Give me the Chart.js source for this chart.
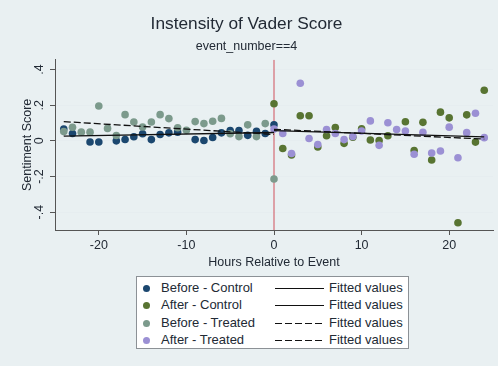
<!DOCTYPE html>
<html>
<head>
<meta charset="utf-8">
<script src="https://cdn.jsdelivr.net/npm/chart.js@4.4.1/dist/chart.umd.min.js"></script>
<style>
	html, body { margin: 0; padding: 0; background: #e9f0f2; }
	#wrap { position: relative; width: 498px; height: 366px; }
	#legend {
		position: absolute; left: 136px; top: 276px; width: 273px; height: 73px;
		background: #fff; border: 1px solid #8c9196; box-sizing: border-box;
		font-family: "Liberation Sans", Arial, sans-serif; font-size: 13px; color: #222a35;
		padding-top: 3px;
	}
	.row { position: relative; height: 17.3px; }
	.dot { position: absolute; left: 6px; top: 5px; width: 7px; height: 7px; border-radius: 50%; }
	.lab1 { position: absolute; left: 24px; top: 0px; }
	.smp { position: absolute; left: 138px; width: 49px; top: 8px; height: 1.2px; }
	.lab2 { position: absolute; left: 192px; top: 0px; }
</style>
</head>
<body>
<div id="wrap">
	<canvas id="chart" width="498" height="366"></canvas>
	<div id="legend"></div>
</div>
<script>
const titleText = "Instensity of Vader Score";
const subtitleText = "event_number==4";
const xTitle = "Hours Relative to Event";
const yTitle = "Sentiment Score";
const xTicks = [-20, -10, 0, 10, 20];
const yTicks = [-0.4, -0.2, 0, 0.2, 0.4];
const yTickLabels = ["-.4", "-.2", "0", ".2", ".4"];

const seriesNames = ["Before - Control", "After - Control", "Before - Treated", "After - Treated"];
const fitName = "Fitted values";

const hoursBC = [-24, -23, -21, -20, -18, -17, -16, -15, -14, -13, -12, -11, -9, -8, -7, -6, -5, -4, -3, -2, -1, 0];
const valuesBC = [0.067, 0.041, -0.006, -0.006, 0.0, 0.008, 0.023, 0.04, 0.007, 0.036, 0.045, 0.049, 0.007, 0.002, 0.019, 0.045, 0.058, 0.058, 0.031, 0.053, 0.041, 0.09];

const hoursAC = [0, 1, 2, 3, 4, 5, 6, 7, 8, 9, 10, 11, 12, 13, 15, 16, 17, 18, 19, 20, 21, 22, 23, 24];
const valuesAC = [0.208, -0.043, -0.079, 0.141, 0.141, -0.034, 0.029, 0.075, -0.014, 0.02, 0.068, 0.005, 0.002, 0.029, 0.107, -0.054, 0.104, -0.107, 0.161, 0.129, -0.459, 0.146, -0.007, 0.284];

const hoursBT = [-24, -23, -22, -21, -20, -19, -18, -17, -16, -15, -14, -13, -12, -11, -10, -9, -8, -7, -6, -5, -4, -3, -2, -1, 0];
const valuesBT = [0.052, 0.076, 0.049, 0.049, 0.196, 0.07, 0.03, 0.147, 0.106, 0.078, 0.106, 0.147, 0.125, 0.074, 0.059, 0.108, 0.097, 0.11, 0.126, 0.04, 0.024, 0.09, 0.024, 0.097, -0.214];

const hoursAT = [0, 1, 2, 3, 4, 5, 6, 7, 8, 9, 10, 11, 12, 13, 14, 15, 16, 17, 18, 19, 20, 21, 22, 23, 24];
const valuesAT = [0.066, 0.041, -0.071, 0.323, 0.013, -0.02, 0.064, 0.041, 0.007, 0.025, 0.055, 0.112, -0.025, 0.102, 0.064, 0.055, -0.075, 0.048, -0.068, -0.057, 0.077, -0.095, 0.046, 0.155, 0.018];

// fitted lines, endpoints only
const fitBeforeHours = [-24, 0];
const fitAfterHours = [0, 24];
const fitBC = [0.027, 0.047];
const fitAC = [0.058, 0.022];
const fitBT = [0.108, 0.036];
const fitAT = [0.065, 0.01];

const eventLineHours = [0, 0];
const eventLineValues = [-0.5, 0.455];

const colors = ["#1b476f", "#587432", "#7c9a8c", "#9b90d4"];
const textColor = "#222a35";
const font = "'Liberation Sans', Arial, sans-serif";

const toPoints = (xs, ys) => xs.map((x, i) => ({ x: x, y: ys[i] }));

const scatterSet = (label, xs, ys, color, order) => ({
	type: "scatter",
	label: label,
	data: toPoints(xs, ys),
	backgroundColor: color,
	borderWidth: 0,
	pointRadius: 3.8,
	order: order
});

const fitSet = (xs, ys, dashed) => ({
	type: "line",
	label: fitName,
	data: toPoints(xs, ys),
	borderColor: "#111",
	borderWidth: 1.3,
	borderDash: dashed ? [7, 3] : [],
	pointRadius: 0,
	fill: false,
	order: 0
});

const datasets = [
	scatterSet(seriesNames[0], hoursBC, valuesBC, colors[0], 4),
	fitSet(fitBeforeHours, fitBC, false),
	scatterSet(seriesNames[1], hoursAC, valuesAC, colors[1], 3),
	fitSet(fitAfterHours, fitAC, false),
	scatterSet(seriesNames[2], hoursBT, valuesBT, colors[2], 2),
	fitSet(fitBeforeHours, fitBT, true),
	scatterSet(seriesNames[3], hoursAT, valuesAT, colors[3], 1),
	fitSet(fitAfterHours, fitAT, true),
	{
		type: "line",
		label: "xline",
		data: toPoints(eventLineHours, eventLineValues),
		borderColor: "#d0505c",
		borderWidth: 1,
		pointRadius: 0,
		order: 10
	}
];

const htmlLegend = {
	id: "htmlLegend",
	afterUpdate(chart) {
		const box = document.getElementById("legend");
		box.innerHTML = "";
		const sets = chart.data.datasets;
		for (let i = 0; i < 8; i += 2) {
			const dot = sets[i];
			const line = sets[i + 1];
			const row = document.createElement("div");
			row.className = "row";
			const bg = line.borderDash.length
				? "repeating-linear-gradient(to right, #111 0 7px, transparent 7px 10px)"
				: "#111";
			row.innerHTML =
				'<span class="dot" style="background:' + dot.backgroundColor + '"></span>' +
				'<span class="lab1">' + dot.label + '</span>' +
				'<span class="smp" style="background:' + bg + '"></span>' +
				'<span class="lab2">' + line.label + '</span>';
			box.appendChild(row);
		}
	}
};

new Chart(document.getElementById("chart"), {
	type: "scatter",
	data: { datasets: datasets },
	plugins: [htmlLegend],
	options: {
		responsive: false,
		animation: false,
		layout: { padding: { left: 0, right: 5, top: 0, bottom: 95 } },
		plugins: {
			legend: { display: false },
			tooltip: { enabled: false },
			title: {
				display: true,
				text: titleText,
				color: textColor,
				font: { family: font, size: 17.3, weight: "normal" },
				padding: { top: 14, bottom: 4 }
			},
			subtitle: {
				display: true,
				text: subtitleText,
				color: textColor,
				font: { family: font, size: 12.5, weight: "normal" },
				padding: { top: 0, bottom: 6 }
			}
		},
		scales: {
			x: {
				type: "linear",
				min: -25,
				max: 25,
				afterBuildTicks: (scale) => { scale.ticks = xTicks.map(v => ({ value: v })); },
				grid: { color: "transparent", tickColor: "#555", tickLength: 5, drawOnChartArea: false },
				border: { color: "#555", width: 1 },
				ticks: { color: textColor, font: { family: font, size: 12.5, lineHeight: 1 }, padding: 4, maxRotation: 0 },
				title: { display: true, text: xTitle, color: textColor, font: { family: font, size: 12.5, lineHeight: 1 }, padding: { top: 1, bottom: 2 } }
			},
			y: {
				type: "linear",
				min: -0.5,
				max: 0.455,
				afterBuildTicks: (scale) => { scale.ticks = yTicks.map(v => ({ value: v })); },
				afterFit: (scale) => { scale.width = 55; },
				grid: { color: "#e6edf0", tickColor: "#555", tickLength: 5 },
				border: { color: "#555", width: 1 },
				ticks: {
					color: textColor,
					font: { family: font, size: 12.5 },
					minRotation: 90,
					maxRotation: 90,
					crossAlign: "center",
					padding: 3,
					callback: (v) => yTickLabels[yTicks.indexOf(Math.round(v * 10) / 10)]
				},
				title: { display: true, text: yTitle, color: textColor, font: { family: font, size: 12.5 }, padding: { top: 20, bottom: 0 } }
			}
		}
	}
});
</script>
</body>
</html>
